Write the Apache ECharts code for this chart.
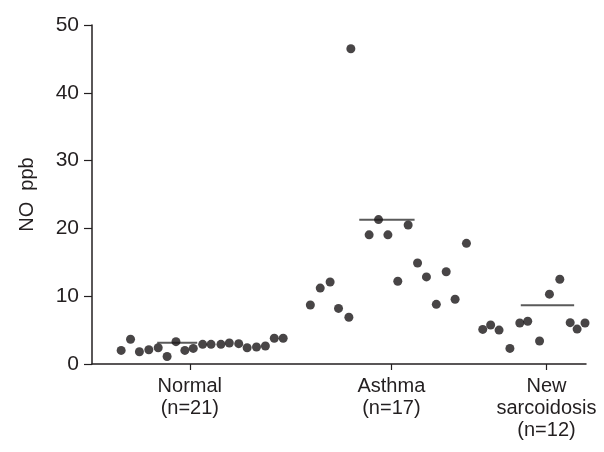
<!DOCTYPE html>
<html>
<head>
<meta charset="utf-8">
<script src="https://cdn.jsdelivr.net/npm/echarts@6/dist/echarts.min.js"></script>
<style>
  html, body { margin: 0; padding: 0; background: #fff; }
  #chart { width: 604px; height: 452px; }
</style>
</head>
<body>
<div id="chart"></div>
<script>
// group centres on the x scale and their labels
const groupPos = [19.8, 60.6, 92.0]
const groupLabels = ['Normal\n(n=21)', 'Asthma\n(n=17)', 'New\nsarcoidosis\n(n=12)']

// [x position (jitter), NO ppb]
const normal = [
  [5.9, 2.0], [7.8, 3.65], [9.6, 1.8], [11.5, 2.1], [13.4, 2.4], [15.2, 1.1],
  [17.0, 3.3], [18.8, 2.0], [20.5, 2.3], [22.4, 2.9], [24.1, 2.9], [26.1, 2.9],
  [27.8, 3.1], [29.7, 3.0], [31.4, 2.4], [33.3, 2.5], [35.1, 2.65], [36.9, 3.8],
  [38.7, 3.8]
]
const asthma = [
  [44.2, 8.7], [46.2, 11.2], [48.2, 12.1], [49.9, 8.2], [52.0, 6.9], [52.4, 46.5],
  [56.1, 19.05], [58.0, 21.3], [59.9, 19.05], [61.9, 12.2], [64.0, 20.5],
  [65.9, 14.9], [67.7, 12.85], [69.7, 8.8], [71.7, 13.6], [73.5, 9.55], [75.8, 17.8]
]
const sarcoidosis = [
  [79.1, 5.1], [80.7, 5.75], [82.4, 5.0], [84.6, 2.3], [86.6, 6.05], [88.2, 6.3],
  [90.6, 3.4], [92.6, 10.3], [94.7, 12.5], [96.8, 6.1], [98.2, 5.15], [99.8, 6.05]
]

// horizontal mean bars: [xStart, xEnd, value]
const means = [
  [13.2, 21.3, 3.15],
  [54.1, 65.3, 21.27],
  [86.8, 97.6, 8.67]
]

const yTicks = [0, 10, 20, 30, 40, 50]

const font = "'Liberation Sans Narrow', 'Liberation Sans', Arial, sans-serif"

const chart = echarts.init(document.getElementById('chart'), null, { renderer: 'canvas' })

const dotStyle = { color: '#1a1718' }

chart.setOption({
  backgroundColor: '#fff',
  animation: false,
  grid: { left: 92, right: 18, top: 25, bottom: 88 },
  xAxis: {
    type: 'value',
    min: 0,
    max: 100,
    splitLine: { show: false },
    axisLine: { lineStyle: { color: '#231f20', width: 1.5 } },
    axisTick: {
      customValues: groupPos,
      length: 6,
      lineStyle: { color: '#231f20', width: 1.2 }
    },
    axisLabel: {
      customValues: groupPos,
      formatter: v => groupLabels[groupPos.indexOf(v)] || '',
      color: '#231f20',
      fontSize: 20,
      lineHeight: 22,
      fontFamily: font,
      margin: 11
    }
  },
  yAxis: {
    type: 'value',
    min: 0,
    max: 50,
    interval: 10,
    name: 'NO  ppb',
    nameLocation: 'middle',
    nameGap: 55,
    nameTextStyle: { color: '#231f20', fontSize: 20, fontFamily: font },
    splitLine: { show: false },
    axisLine: { show: true, lineStyle: { color: '#231f20', width: 1.5 } },
    axisTick: { show: true, length: 8, lineStyle: { color: '#231f20', width: 1.2 } },
    axisLabel: {
      color: '#231f20',
      fontSize: 21,
      fontFamily: font,
      margin: 13,
      formatter: v => (yTicks.includes(v) ? String(v) : '')
    }
  },
  series: [
    ...means.map(m => ({
      type: 'line',
      data: [[m[0], m[2]], [m[1], m[2]]],
      symbol: 'none',
      lineStyle: { color: '#5a5a5a', width: 2 },
      z: 1
    })),
    ...[normal, asthma, sarcoidosis].map(d => ({
      type: 'scatter',
      data: d,
      symbolSize: 9,
      itemStyle: dotStyle,
      z: 2
    }))
  ]
})
</script>
</body>
</html>
